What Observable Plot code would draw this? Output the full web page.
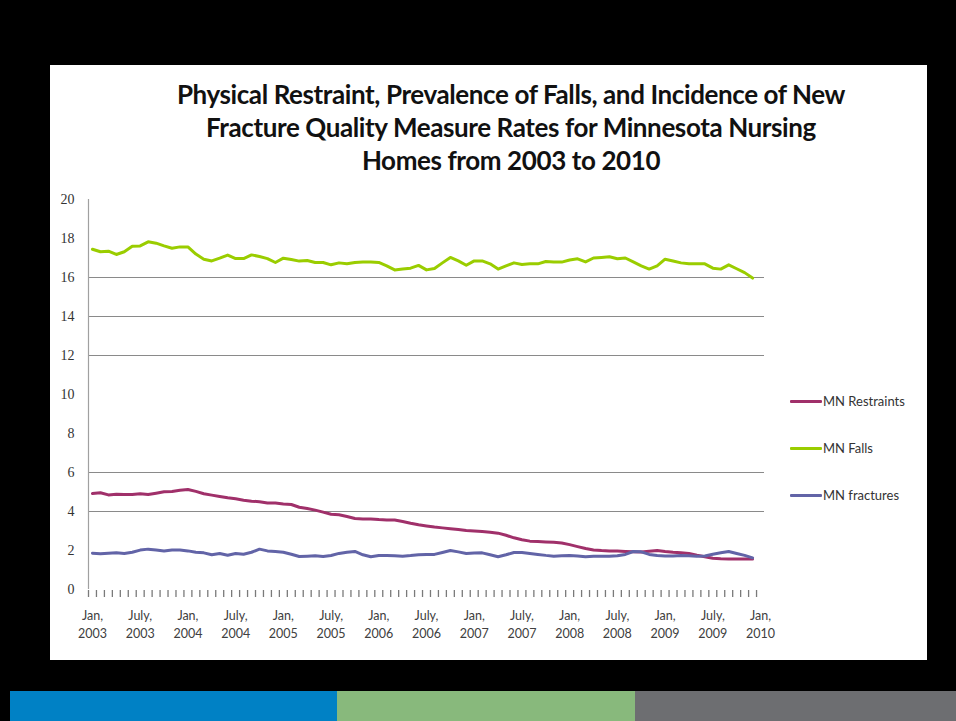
<!DOCTYPE html>
<html>
<head>
<meta charset="utf-8">
<script src="https://cdn.jsdelivr.net/npm/d3@7"></script>
<script src="https://cdn.jsdelivr.net/npm/@observablehq/plot@0.6"></script>
<style>
  html, body { margin: 0; padding: 0; background: #000; width: 956px; height: 721px; overflow: hidden; }
  #panel { position: absolute; left: 50px; top: 65px; width: 877px; height: 595px; background: #fff; }
  #chart { position: absolute; left: 50px; top: 65px; }
  #title { position: absolute; left: 100px; width: 822px; top: 78px; text-align: center;
           font-family: Lato, "Open Sans", sans-serif; font-weight: 700; font-size: 26px; line-height: 33px;
           color: #111; letter-spacing: -0.4px; }
  .leg { position: absolute; left: 790px; font-family: Lato, "Open Sans", sans-serif; font-size: 13px; color: #333; }
  .leg span.sw { position: absolute; left: 0; top: 7px; width: 32px; height: 3px; border-radius: 1px; }
  .leg span.lb { position: absolute; left: 33px; top: 0; white-space: nowrap; }
  .stripe { position: absolute; top: 691px; height: 30px; }
</style>
</head>
<body>
<div id="panel"></div>
<div id="chart"></div>
<div id="title">Physical Restraint, Prevalence of Falls, and Incidence of New<br>Fracture Quality Measure Rates for Minnesota Nursing<br>Homes from 2003 to 2010</div>
<div id="legend"></div>
<div class="stripe" style="left:10px;width:327px;background:#0081c5"></div>
<div class="stripe" style="left:337px;width:298px;background:#88b97c"></div>
<div class="stripe" style="left:635px;width:321px;background:#6d6e71"></div>
<script>
// Monthly values, Jan 2003 .. Dec 2009
const restraints = [4.92,4.96,4.85,4.89,4.87,4.87,4.91,4.87,4.94,5.01,5.03,5.09,5.13,5.03,4.91,4.84,4.77,4.7,4.65,4.58,4.53,4.5,4.44,4.43,4.39,4.36,4.22,4.15,4.07,3.97,3.86,3.83,3.74,3.64,3.62,3.62,3.59,3.57,3.56,3.49,3.4,3.32,3.26,
  3.2,3.16,3.12,3.08,3.03,3.0,2.97,2.94,2.89,2.78,2.65,2.55,2.48,2.46,2.44,2.42,2.38,2.3,2.2,2.1,2.03,2.0,1.98,1.97,1.95,1.93,1.92,1.96,2.0,1.95,1.91,1.88,1.85,1.76,1.68,1.6,1.58,1.57,1.57,1.57,1.57];
const falls = [17.45,17.32,17.35,17.18,17.32,17.6,17.62,17.83,17.76,17.62,17.5,17.57,17.57,17.2,16.94,16.85,16.99,17.15,16.97,16.97,17.16,17.08,16.97,16.77,16.99,16.92,16.84,16.87,16.77,16.77,16.65,16.75,16.7,16.77,16.79,16.79,16.77,16.6,16.39,16.44,16.48,16.62,16.39,
  16.46,16.75,17.03,16.85,16.63,16.85,16.85,16.7,16.43,16.6,16.75,16.67,16.7,16.7,16.82,16.8,16.79,16.9,16.96,16.8,17.0,17.03,17.06,16.96,17.0,16.8,16.6,16.43,16.6,16.94,16.85,16.75,16.7,16.7,16.7,16.48,16.43,16.65,16.45,16.25,15.97];
const fractures = [1.86,1.83,1.86,1.88,1.85,1.91,2.02,2.07,2.03,1.98,2.03,2.03,1.98,1.91,1.88,1.78,1.85,1.76,1.85,1.81,1.91,2.07,1.98,1.95,1.91,1.81,1.69,1.71,1.73,1.69,1.74,1.85,1.91,1.95,1.78,1.68,1.74,1.74,1.73,1.71,1.74,1.78,1.79,
  1.8,1.9,2.0,1.93,1.85,1.87,1.88,1.78,1.68,1.78,1.9,1.9,1.85,1.8,1.75,1.71,1.73,1.74,1.72,1.68,1.7,1.71,1.71,1.73,1.8,1.95,1.93,1.8,1.74,1.72,1.72,1.74,1.73,1.71,1.72,1.81,1.88,1.95,1.85,1.75,1.62];

const seriesNames = ["MN Restraints", "MN Falls", "MN fractures"];
const seriesColors = ["#a0306a", "#9acd00", "#6264a7"];
const xTickLabels = ["Jan,\n2003","July,\n2003","Jan,\n2004","July,\n2004","Jan,\n2005","July,\n2005","Jan,\n2006","July,\n2006","Jan,\n2007","July,\n2007","Jan,\n2008","July,\n2008","Jan,\n2009","July,\n2009","Jan,\n2010"];
const yTicks = [0,2,4,6,8,10,12,14,16,18,20];
const gridValues = [4,6,12,14,16];

const rows = [];
[restraints, falls, fractures].forEach((arr, s) => arr.forEach((v, i) => rows.push({i, v, s: seriesNames[s]})));
const xTickPos = xTickLabels.map((_, k) => k * 6);
const monthTicks = d3.range(-0.5, 84, 1);

const chart = Plot.plot({
  width: 877, height: 595,
  marginLeft: 38, marginRight: 163, marginTop: 134, marginBottom: 71,
  style: {background: "transparent", overflow: "visible"},
  x: {domain: [-0.5, 84.5], axis: null},
  y: {domain: [0, 20], axis: null},
  color: {domain: seriesNames, range: seriesColors},
  marks: [
    Plot.ruleY(gridValues, {stroke: "#8a8a8a", strokeWidth: 1}),
    Plot.ruleX([-0.5], {y1: 0, y2: 20, stroke: "#a0a0a0", strokeWidth: 1.2}),
    Plot.tickX(monthTicks, {x: d => d, insetTop: 391, insetBottom: -8, stroke: "#7a7a7a", strokeWidth: 1.3}),
    Plot.text(yTicks, {x: -0.5, y: d => d, text: d => String(d), textAnchor: "end", dx: -14,
      fontFamily: "Liberation Serif, serif", fontSize: 14, fill: "#333"}),
    Plot.text(xTickPos, {x: d => d, y: 0, text: (d, k) => xTickLabels[k], dy: 34, lineHeight: 1.45,
      fontFamily: "Lato, 'Open Sans', sans-serif", fontSize: 12.5, fill: "#404040"}),
    Plot.line(rows, {x: "i", y: "v", z: "s", stroke: "s", strokeWidth: 3, curve: "linear"})
  ]
});
document.getElementById("chart").appendChild(chart);

const legend = document.getElementById("legend");
const legendTops = [393, 440, 487];
seriesNames.forEach((name, k) => {
  const d = document.createElement("div");
  d.className = "leg";
  d.style.top = legendTops[k] + "px";
  d.innerHTML = `<span class="sw" style="background:${seriesColors[k]}"></span><span class="lb">${name}</span>`;
  legend.appendChild(d);
});
</script>
</body>
</html>
